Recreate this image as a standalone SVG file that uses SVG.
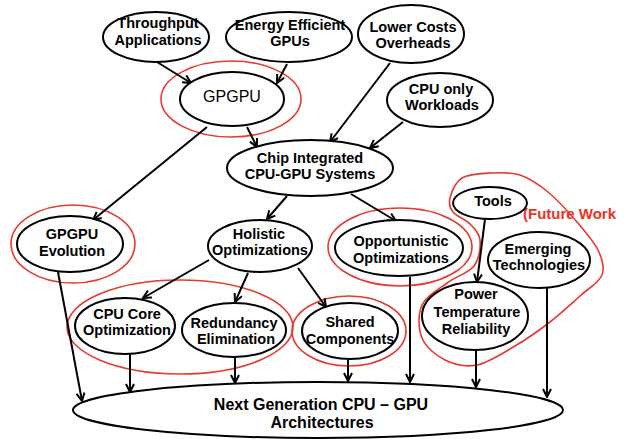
<svg xmlns="http://www.w3.org/2000/svg" width="628" height="439" viewBox="0 0 628 439">
  <style>
    .node { fill: #fff; stroke: #000; stroke-width: 2; }
    .hl { fill: none; stroke: #e8392e; stroke-width: 1.6; }
    .lbl { font-family: "Liberation Sans", Arial, sans-serif; font-weight: bold; font-size: 14.5px; fill: #000; text-anchor: middle; }
    .big { font-weight: normal; font-size: 16px; }
    .main { font-size: 16px; }
    .edge { stroke: #000; stroke-width: 2; fill: none; marker-end: url(#ah); }
    .note { font-family: "Liberation Sans", Arial, sans-serif; font-weight: bold; font-size: 15px; fill: #ee3124; }
  </style>
  <defs>
    <marker id="ah" viewBox="0 0 10 10" refX="9" refY="5" markerWidth="10" markerHeight="10" markerUnits="userSpaceOnUse" orient="auto">
      <path d="M1,1 L9,5 L1,9" fill="none" stroke="#000" stroke-width="2"/>
    </marker>
  </defs>
  <rect width="628" height="439" fill="#fff"/>

  <!-- highlight rings -->
  <g id="highlights">
    <ellipse class="hl" cx="231" cy="99" rx="70" ry="38"/>
    <ellipse class="hl" cx="73" cy="244" rx="62" ry="39"/>
    <ellipse class="hl" cx="180" cy="327" rx="113" ry="47"/>
    <ellipse class="hl" cx="349" cy="331" rx="57" ry="35"/>
    <ellipse class="hl" cx="400" cy="247" rx="72" ry="39"/>
    <path class="hl" d="M450,198 C451.5,192.3 455.3,182.2 462,178 C468.7,173.8 480.3,173.5 490,173 C499.7,172.5 510.3,171.8 520,175 C529.7,178.2 538.5,184.2 548,192 C557.5,199.8 568.7,212.3 577,222 C585.3,231.7 593.8,241.2 598,250 C602.2,258.8 605,267.3 602,275 C599,282.7 588.7,288.2 580,296 C571.3,303.8 560.8,313.7 550,322 C539.2,330.3 527.2,338.8 515,346 C502.8,353.2 488.7,362.7 477,365 C465.3,367.3 454.2,364.5 445,360 C435.8,355.5 425.8,347.2 422,338 C418.2,328.8 417.8,314.2 422,305 C426.2,295.8 438.3,289.5 447,283 C455.7,276.5 468.5,273.2 474,266 C479.5,258.8 480.7,247 480,240 C479.3,233 474.5,228.7 470,224 C465.5,219.3 456.3,216.3 453,212 C449.7,207.7 448.5,203.7 450,198 Z"/>
    <text class="note" x="523" y="219">(Future Work</text>
  </g>

  <!-- connectors -->
  <g id="connectors">
    <line class="edge" x1="157" y1="62" x2="191" y2="83"/>
    <line class="edge" x1="287" y1="64" x2="277" y2="83"/>
    <line class="edge" x1="247" y1="127" x2="257" y2="147"/>
    <line class="edge" x1="207" y1="127" x2="93" y2="220"/>
    <line class="edge" x1="390" y1="63" x2="330" y2="142"/>
    <line class="edge" x1="403" y1="122" x2="370" y2="148"/>
    <line class="edge" x1="287" y1="196" x2="267" y2="219"/>
    <line class="edge" x1="351" y1="194" x2="396" y2="221"/>
    <line class="edge" x1="209" y1="260" x2="143" y2="298"/>
    <line class="edge" x1="248" y1="273" x2="235" y2="302"/>
    <line class="edge" x1="298" y1="268" x2="326" y2="307"/>
    <line class="edge" x1="58" y1="272" x2="82" y2="401"/>
    <line class="edge" x1="130" y1="353" x2="130" y2="392"/>
    <line class="edge" x1="235" y1="358" x2="235" y2="383"/>
    <line class="edge" x1="348" y1="360" x2="348" y2="381"/>
    <line class="edge" x1="410" y1="277" x2="410" y2="382"/>
    <line class="edge" x1="485" y1="219" x2="477" y2="282"/>
    <line class="edge" x1="476" y1="350" x2="476" y2="387"/>
    <line class="edge" x1="547" y1="288" x2="547" y2="397"/>
  </g>

  <g id="throughput">
    <ellipse class="node" cx="156" cy="37" rx="53" ry="25"/>
    <text class="lbl" x="158" y="28">Throughput</text>
    <text class="lbl" x="158" y="45">Applications</text>
  </g>
  <g id="energy">
    <ellipse class="node" cx="289" cy="37" rx="63" ry="25"/>
    <text class="lbl" x="290" y="30">Energy Efficient</text>
    <text class="lbl" x="290" y="46">GPUs</text>
  </g>
  <g id="lowercost">
    <ellipse class="node" cx="411" cy="34" rx="53" ry="29"/>
    <text class="lbl" x="413" y="32">Lower Costs</text>
    <text class="lbl" x="413" y="48">Overheads</text>
  </g>
  <g id="gpgpu">
    <ellipse class="node" cx="232" cy="99" rx="52" ry="27"/>
    <text class="lbl big" x="232" y="102">GPGPU</text>
  </g>
  <g id="cpuonly">
    <ellipse class="node" cx="440" cy="100" rx="53" ry="27"/>
    <text class="lbl" x="441" y="94">CPU only</text>
    <text class="lbl" x="442" y="110">Workloads</text>
  </g>
  <g id="chip">
    <ellipse class="node" cx="310" cy="168" rx="83" ry="28"/>
    <text class="lbl" x="310" y="163">Chip Integrated</text>
    <text class="lbl" x="310" y="179">CPU-GPU Systems</text>
  </g>
  <g id="evolution">
    <ellipse class="node" cx="70" cy="244" rx="53" ry="28"/>
    <text class="lbl" x="72" y="239">GPGPU</text>
    <text class="lbl" x="72" y="256">Evolution</text>
  </g>
  <g id="holistic">
    <ellipse class="node" cx="260" cy="246" rx="52" ry="26"/>
    <text class="lbl" x="259" y="239">Holistic</text>
    <text class="lbl" x="260" y="255">Optimizations</text>
  </g>
  <g id="opportunistic">
    <ellipse class="node" cx="399" cy="248" rx="64" ry="28"/>
    <text class="lbl" x="401" y="246">Opportunistic</text>
    <text class="lbl" x="401" y="263">Optimizations</text>
  </g>
  <g id="tools">
    <ellipse class="node" cx="490" cy="203" rx="37" ry="16"/>
    <text class="lbl" x="493" y="206">Tools</text>
  </g>
  <g id="emerging">
    <ellipse class="node" cx="539" cy="260" rx="51" ry="28"/>
    <text class="lbl" x="538" y="254">Emerging</text>
    <text class="lbl" x="539" y="270">Technologies</text>
  </g>
  <g id="cpucore">
    <ellipse class="node" cx="125" cy="326" rx="50" ry="28"/>
    <text class="lbl" x="127" y="319">CPU Core</text>
    <text class="lbl" x="127" y="335">Optimization</text>
  </g>
  <g id="redundancy">
    <ellipse class="node" cx="234" cy="330" rx="52" ry="27"/>
    <text class="lbl" x="234" y="328">Redundancy</text>
    <text class="lbl" x="236" y="344">Elimination</text>
  </g>
  <g id="shared">
    <ellipse class="node" cx="350" cy="331" rx="48" ry="28"/>
    <text class="lbl" x="350" y="327">Shared</text>
    <text class="lbl" x="350" y="344">Components</text>
  </g>
  <g id="power">
    <ellipse class="node" cx="475" cy="316" rx="53" ry="34"/>
    <text class="lbl" x="476" y="299">Power</text>
    <text class="lbl" x="477" y="317">Temperature</text>
    <text class="lbl" x="476" y="334">Reliability</text>
  </g>
  <g id="nextgen">
    <ellipse class="node" cx="318" cy="410" rx="245" ry="28"/>
    <text class="lbl main" x="321" y="410">Next Generation CPU – GPU</text>
    <text class="lbl main" x="322" y="428">Architectures</text>
  </g>
</svg>
